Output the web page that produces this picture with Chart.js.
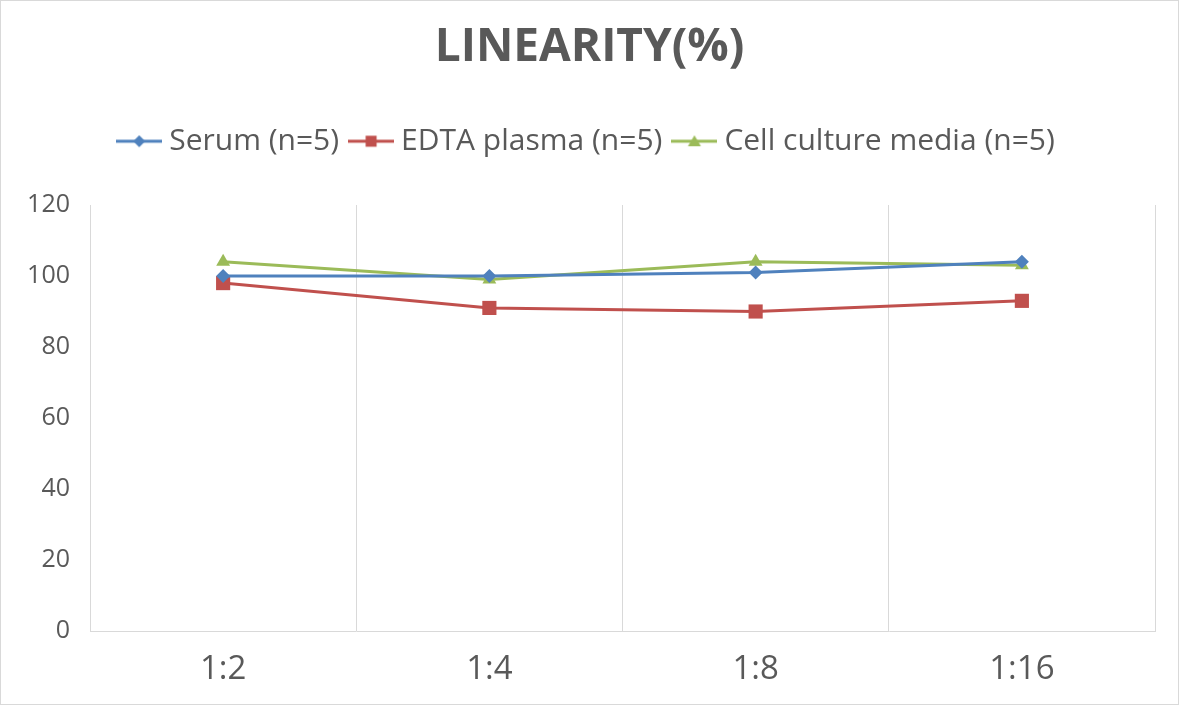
<!DOCTYPE html>
<html>
<head>
<meta charset="utf-8">
<script src="https://cdn.jsdelivr.net/npm/chart.js@4.4.1/dist/chart.umd.min.js"></script>
<style>
  html, body { margin: 0; padding: 0; background: #fff; }
  #wrap { width: 1179px; height: 705px; position: relative; }
</style>
</head>
<body>
<div id="wrap"><canvas id="c" width="1179" height="705"></canvas></div>
<script>
const categories = ['1:2', '1:4', '1:8', '1:16'];
const serum = [100, 100, 101, 104];
const edtaPlasma = [98, 91, 90, 93];
const cellCulture = [104, 99, 104, 103];
const seriesNames = ['Serum (n=5)', 'EDTA plasma (n=5)', 'Cell culture media (n=5)'];
const yTicks = [0, 20, 40, 60, 80, 100, 120];

const COLORS = ['#4F81BD', '#C0504D', '#9BBB59'];
const STYLES = ['rectRot', 'rect', 'triangle'];
const FONT = "'Open Sans', 'Noto Sans', sans-serif";

function legendIcon(color, style) {
  const cv = document.createElement('canvas');
  cv.width = 46; cv.height = 16;
  const g = cv.getContext('2d');
  g.strokeStyle = color; g.lineWidth = 3;
  g.beginPath(); g.moveTo(0, 8); g.lineTo(46, 8); g.stroke();
  g.fillStyle = color;
  g.beginPath();
  if (style === 'rectRot') {
    g.moveTo(23, 2); g.lineTo(29, 8); g.lineTo(23, 14); g.lineTo(17, 8); g.closePath();
  } else if (style === 'rect') {
    g.rect(17.5, 2.5, 11, 11);
  } else {
    g.moveTo(23, 2); g.lineTo(29.5, 13); g.lineTo(16.5, 13); g.closePath();
  }
  g.fill();
  return cv;
}
const icons = COLORS.map((c, i) => legendIcon(c, STYLES[i]));

const borderPlugin = {
  id: 'outerBorder',
  afterDraw(chart) {
    const ctx = chart.ctx;
    ctx.save();
    ctx.strokeStyle = '#d9d9d9';
    ctx.lineWidth = 1;
    ctx.strokeRect(0.5, 0.5, chart.width - 1, chart.height - 1);
    ctx.restore();
  }
};

function ds(label, data, i) {
  return {
    label, data,
    borderColor: COLORS[i], backgroundColor: COLORS[i],
    borderWidth: 3, tension: 0,
    pointStyle: STYLES[i],
    pointRadius: i === 1 ? 10 : (i === 0 ? 7 : 8),
    pointHoverRadius: 8,
    pointBorderWidth: 0
  };
}

new Chart(document.getElementById('c'), {
  type: 'line',
  data: {
    labels: categories,
    datasets: [ds(seriesNames[0], serum, 0), ds(seriesNames[1], edtaPlasma, 1), ds(seriesNames[2], cellCulture, 2)]
  },
  options: {
    responsive: false,
    animation: false,
    layout: { padding: { left: 0, right: 0, top: 0, bottom: 0 } },
    plugins: {
      title: {
        display: true,
        text: 'LINEARITY(%)',
        color: '#595959',
        font: { family: FONT, size: 46, weight: 'bold' },
        padding: { top: 20, bottom: 34 }
      },
      subtitle: {
        display: true,
        text: '',
        weight: 500,
        font: { size: 10 },
        padding: { top: 26.8, bottom: 0 }
      },
      legend: {
        display: true,
        labels: {
          color: '#595959',
          font: { family: FONT, size: 30 },
          usePointStyle: true,
          pointStyleWidth: 30,
          padding: 17,
          generateLabels(chart) {
            return chart.data.datasets.map((d, i) => ({
              text: d.label,
              fillStyle: COLORS[i],
              strokeStyle: COLORS[i],
              pointStyle: icons[i],
              lineWidth: 0,
              fontColor: '#595959',
              datasetIndex: i,
              hidden: false
            }));
          }
        }
      },
      tooltip: { enabled: false }
    },
    scales: {
      x: {
        offset: true,
        grid: { display: true, offset: true, color: '#d9d9d9', lineWidth: 1, drawTicks: false },
        border: { display: true, color: '#d9d9d9', width: 1 },
        ticks: { color: '#595959', font: { family: FONT, size: 33 }, padding: 19 },
        afterFit(scale) { scale.height = 74; }
      },
      y: {
        min: 0, max: 120,
        afterBuildTicks(scale) { scale.ticks = yTicks.map(v => ({ value: v })); },
        grid: { display: false, drawTicks: false },
        border: { display: false },
        ticks: { color: '#595959', font: { family: FONT, size: 25 }, padding: 20 },
        afterFit(scale) { scale.width = 90; }
      },
      yRight: {
        position: 'right',
        min: 0, max: 120,
        grid: { display: false, drawTicks: false },
        border: { display: false },
        ticks: { display: false },
        afterFit(scale) { scale.width = 24; }
      }
    }
  },
  plugins: [borderPlugin]
});
</script>
</body>
</html>
